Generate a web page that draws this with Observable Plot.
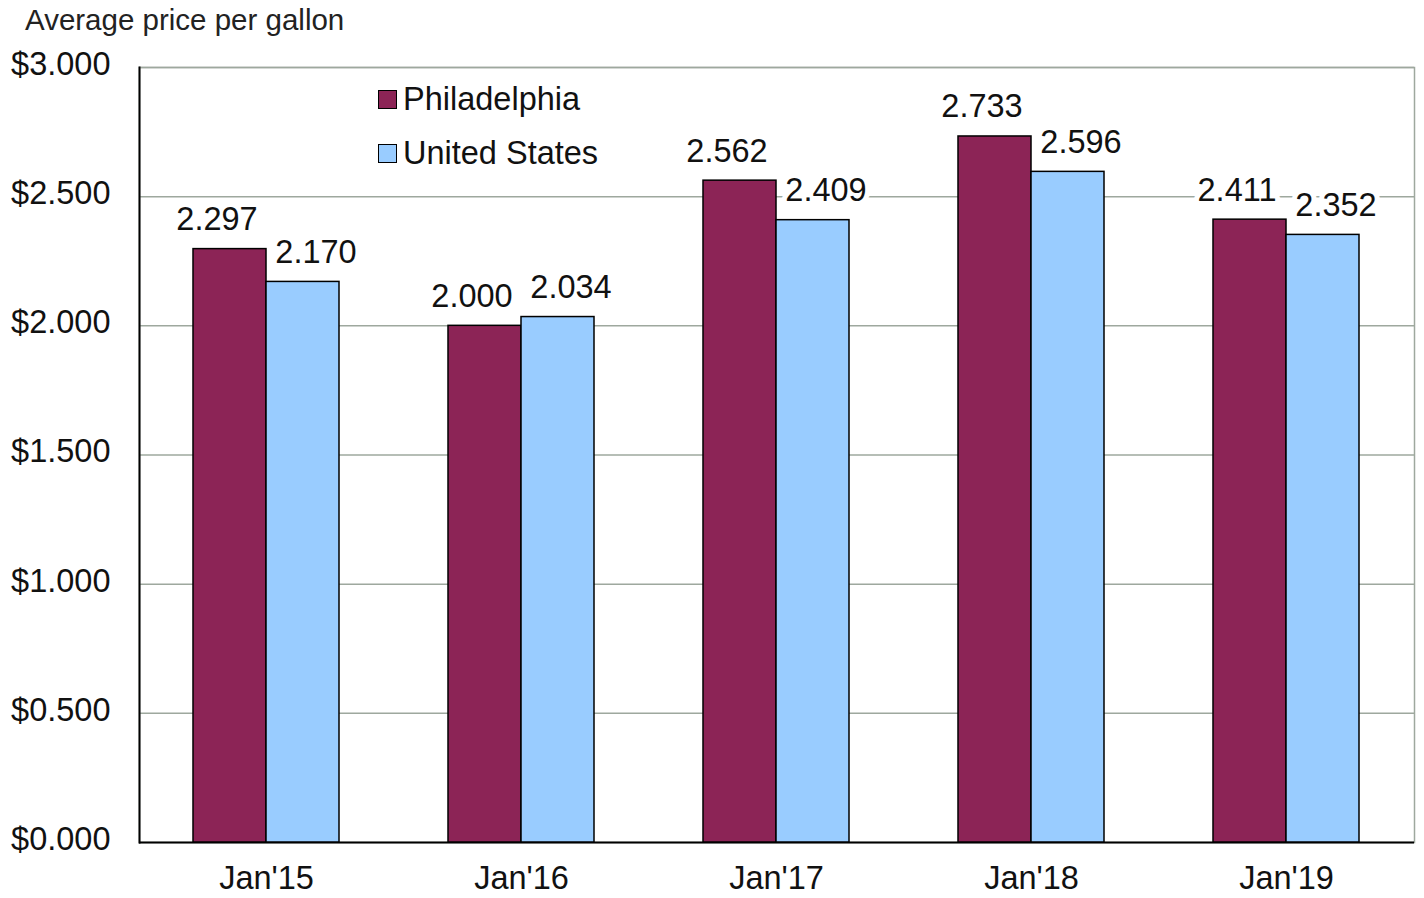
<!DOCTYPE html>
<html>
<head>
<meta charset="utf-8">
<script src="https://cdn.jsdelivr.net/npm/d3@7"></script>
<script src="https://cdn.jsdelivr.net/npm/@observablehq/plot@0.6"></script>
<style>
  html, body { margin: 0; padding: 0; background: white; }
  #wrap { position: relative; width: 1424px; height: 898px; font-family: "Liberation Sans", Arial, sans-serif; color: #111; }
  #title { position: absolute; left: 25px; top: 3px; font-size: 29.5px; color: #222; }
  .leg { position: absolute; left: 378px; font-size: 32.5px; display: flex; align-items: center; color: #111; }
  .sw { width: 17px; height: 17px; border: 1.5px solid #000; margin-right: 6px; }
</style>
</head>
<body>
<div id="wrap">
  <div id="chart"></div>
  <div id="title">Average price per gallon</div>
  <div id="legend"></div>
</div>
<script>
const months = ["Jan'15", "Jan'16", "Jan'17", "Jan'18", "Jan'19"];
const series = ["Philadelphia", "United States"];
const philadelphia = [2.297, 2.000, 2.562, 2.733, 2.411];
const unitedStates = [2.170, 2.034, 2.409, 2.596, 2.352];
const colors = ["#8c2456", "#99ccff"];
const yTicks = [0, 0.5, 1, 1.5, 2, 2.5, 3];

const phil = months.map((m, i) => ({month: m, series: series[0], value: philadelphia[i]}));
const us = months.map((m, i) => ({month: m, series: series[1], value: unitedStates[i]}));

const font = "Liberation Sans, Arial, sans-serif";
const fs = 32.5;
const half = 73;

const textOpts = {x: "month", y: "value", text: d => d.value.toFixed(3), lineAnchor: "bottom", dy: -19, fontSize: fs, fill: "#111", stroke: "white", strokeWidth: 10, paintOrder: "stroke"};

const chart = Plot.plot({
  width: 1424,
  height: 898,
  marginLeft: 139,
  marginRight: 10,
  marginTop: 67,
  marginBottom: 56,
  style: {fontFamily: font, fontSize: fs + "px", color: "#111", background: "white"},
  x: {domain: months, paddingInner: 0.427, paddingOuter: 0.2135, label: null},
  y: {domain: [0, 3], label: null},
  marks: [
    Plot.ruleY(yTicks.filter(d => d > 0), {stroke: "#9ea89e", strokeWidth: 1.5}),
    Plot.frame({stroke: "#9ea89e", strokeWidth: 1.5}),
    Plot.ruleY([0], {stroke: "#000", strokeWidth: 2}),
    Plot.frame({anchor: "left", stroke: "#000", strokeWidth: 2}),
    Plot.axisY({ticks: yTicks, tickFormat: d => "$" + d.toFixed(3), tickSize: 0, tickPadding: 29, fontSize: fs, dy: -3, label: null}),
    Plot.axisX({tickSize: 0, tickPadding: 23, fontSize: fs, label: null}),
    Plot.barY(phil, {x: "month", y: "value", fill: colors[0], insetRight: half, stroke: "#000", strokeWidth: 1.5}),
    Plot.barY(us, {x: "month", y: "value", fill: colors[1], insetLeft: half, stroke: "#000", strokeWidth: 1.5}),
    Plot.text(phil, {...textOpts, dx: -half / 2 - 13}),
    Plot.text(us, {...textOpts, dx: half / 2 + 13})
  ]
});
document.getElementById("chart").appendChild(chart);

const legend = document.getElementById("legend");
series.forEach((s, i) => {
  const d = document.createElement("div");
  d.className = "leg";
  d.style.top = (81 + i * 54) + "px";
  d.innerHTML = `<div class="sw" style="background:${colors[i]}"></div><span>${s}</span>`;
  legend.appendChild(d);
});
</script>
</body>
</html>
